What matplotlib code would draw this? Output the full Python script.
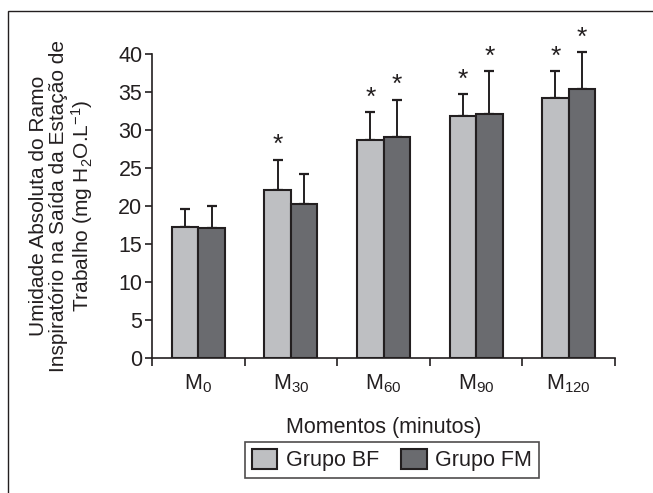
import numpy as np
import matplotlib
matplotlib.use("Agg")
import matplotlib.pyplot as plt
from matplotlib.patches import Rectangle

plt.rcParams['font.family'] = ['Liberation Sans', 'DejaVu Sans']
plt.rcParams['mathtext.fontset'] = 'custom'
plt.rcParams['mathtext.rm'] = 'Liberation Sans'

# data
momentos = ['M$\\mathregular{_{0}}$', 'M$\\mathregular{_{30}}$', 'M$\\mathregular{_{60}}$',
            'M$\\mathregular{_{90}}$', 'M$\\mathregular{_{120}}$']
bf_media = [17.2, 22.1, 28.7, 31.8, 34.2]
bf_dp = [2.4, 4.0, 3.7, 2.9, 3.5]
fm_media = [17.1, 20.2, 29.1, 32.1, 35.4]
fm_dp = [2.9, 4.05, 4.9, 5.6, 4.9]
bf_sig = [False, True, True, True, True]
fm_sig = [False, False, True, True, True]

cor_bf = '#bebfc2'
cor_fm = '#6a6b6f'
borda = '#231f20'

fig = plt.figure(figsize=(6.53, 4.93), dpi=100)
ax = fig.add_axes([0.2328, 0.2738, 0.7090, 0.6167])

# moldura externa
fig.patches.append(Rectangle((0.0123, -0.1), 1.2, 0.1 + 0.9777, transform=fig.transFigure,
                             fill=False, edgecolor=borda, linewidth=1.0))

x = np.arange(len(momentos))
w = 0.286
ekw = dict(ecolor=borda, elinewidth=1.4, capsize=3.6, capthick=1.6)
ax.bar(x - w / 2, bf_media, w, color=cor_bf, edgecolor=borda, linewidth=1.5,
       label='Grupo BF', zorder=3)
ax.bar(x + w / 2, fm_media, w, color=cor_fm, edgecolor=borda, linewidth=1.5,
       label='Grupo FM', zorder=3)
# only upper error bars
for xs, med, dp in [(x - w / 2, bf_media, bf_dp), (x + w / 2, fm_media, fm_dp)]:
    eb = ax.errorbar(xs, med, yerr=[np.zeros(5), dp], fmt='none', zorder=2, **ekw)
    for art in eb.lines[1] + eb.lines[2]:
        art.set_clip_on(False)

for i in range(len(momentos)):
    if bf_sig[i]:
        ax.text(x[i] - w / 2, bf_media[i] + bf_dp[i] + 0.3, '*', ha='center', va='bottom',
                fontsize=19, color=borda)
    if fm_sig[i]:
        ax.text(x[i] + w / 2, fm_media[i] + fm_dp[i] + 0.3, '*', ha='center', va='bottom',
                fontsize=19, color=borda)

ax.set_xlim(-0.5, 4.5)
ax.set_ylim(0, 40)
ax.set_yticks(range(0, 41, 5))
ax.set_xticks(x)
ax.set_xticklabels(momentos)
ax.set_xticks(np.arange(-0.5, 5, 1), minor=True)
ax.tick_params(axis='x', which='major', length=0, pad=10.5, labelsize=15.5, colors=borda)
ax.tick_params(axis='x', which='minor', length=6, width=1.2, color=borda, direction='out')
ax.tick_params(axis='y', length=5, width=1.2, color=borda, labelsize=15.5, pad=2,
               labelcolor=borda)
for s in ['top', 'right']:
    ax.spines[s].set_visible(False)
for s in ['left', 'bottom']:
    ax.spines[s].set_color(borda)
    ax.spines[s].set_linewidth(1.2)

ax.set_xlabel('Momentos (minutos)', fontsize=15.5, labelpad=16, color=borda)
ax.set_ylabel('Umidade Absoluta do Ramo\nInspiratório na Saída da Estação de\n'
              'Trabalho (mg H$\\mathregular{_2}$O.L$\\mathregular{^{-1}}$)',
              fontsize=15, linespacing=1.05, labelpad=17, color=borda)

leg = fig.legend(loc='center', bbox_to_anchor=(0.6, 0.067), ncol=2, fontsize=15.5,
                 frameon=True, fancybox=False, edgecolor=borda, handlelength=1.2,
                 handleheight=1.1, handletextpad=0.4, columnspacing=1.0,
                 borderpad=0.3)
leg.get_frame().set_linewidth(1.2)
for t in leg.get_texts():
    t.set_color(borda)

fig.savefig('out.png', dpi=100)
